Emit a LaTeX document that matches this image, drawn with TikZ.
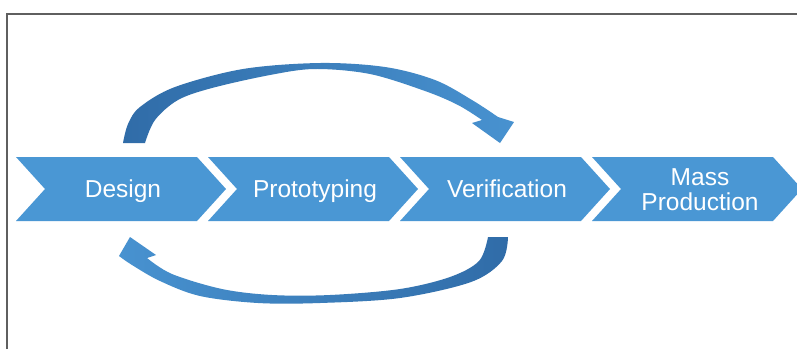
\documentclass[tikz,border=0pt]{standalone}
\usepackage{fontspec}
\setmainfont{Liberation Sans}
\definecolor{chevblue}{RGB}{74,151,212}
\definecolor{arcdark}{RGB}{48,108,168}
\definecolor{arclight}{RGB}{72,146,208}
\definecolor{framegray}{RGB}{95,95,95}
\begin{document}
\begin{tikzpicture}[x=1pt,y=-1pt,
  chev/.style={fill=chevblue},
  lbl/.style={text=white,font=\fontsize{24.5}{25}\selectfont,anchor=base,inner sep=0pt,align=center},
  framestyle/.style={draw=framegray,line width=1.3pt}]
\useasboundingbox (0,0) rectangle (797,349);
\fill[white] (0,0) rectangle (797,349);
% open frame: only the top and left edges fall inside the page
\draw[framestyle] (7,349) -- (7,14) -- (797,14);

% four chevrons of the process
\foreach \k in {0,...,3} {
  \pgfmathsetmacro\L{16+192*\k}
  \fill[chev] (\L,157) -- ++(181,0) -- ++(29,32) -- ++(-29,32) -- ++(-181,0) -- ++(29,-32) -- cycle;
}

\node[lbl] (design) at (123,197) {Design};
\node[lbl] (proto)  at (315,197) {Prototyping};
\node[lbl] (verif)  at (507,197) {Verification};
\node[lbl] (mass)   at (700,185) {Mass};
\node[lbl] (prod)   at (700,210) {Production};

% feedback arrow over the top: Design -> Verification
\shade[left color=arcdark,right color=arclight]
  plot[smooth,tension=0.55] coordinates {(123,143) (128,124) (140,107) (175,87) (243,69) (320,63) (385,67) (435,80) (472,100) (498,117)}
  -- (514,122) -- (500,143) -- (472,123) -- (482,120)
  -- plot[smooth,tension=0.55] coordinates {(482,120) (458,105) (425,91) (370,74) (315,69) (270,75) (212,88) (178,100) (155,120) (145,143)}
  -- cycle;

% feedback arrow underneath: Verification -> Design
\shade[left color=arclight,right color=arcdark]
  plot[smooth,tension=0.55] coordinates {(508,237) (502,261) (471,282) (400,298) (320,303) (258,303) (200,296) (160,281) (132,265) (119,256)}
  -- (130,237) -- (156,255) -- (147,258)
  -- plot[smooth,tension=0.55] coordinates {(147,258) (172,274) (222,289) (272,295) (330,295) (400,289) (450,277) (479,261) (488,237)}
  -- cycle;
\end{tikzpicture}
\end{document}
